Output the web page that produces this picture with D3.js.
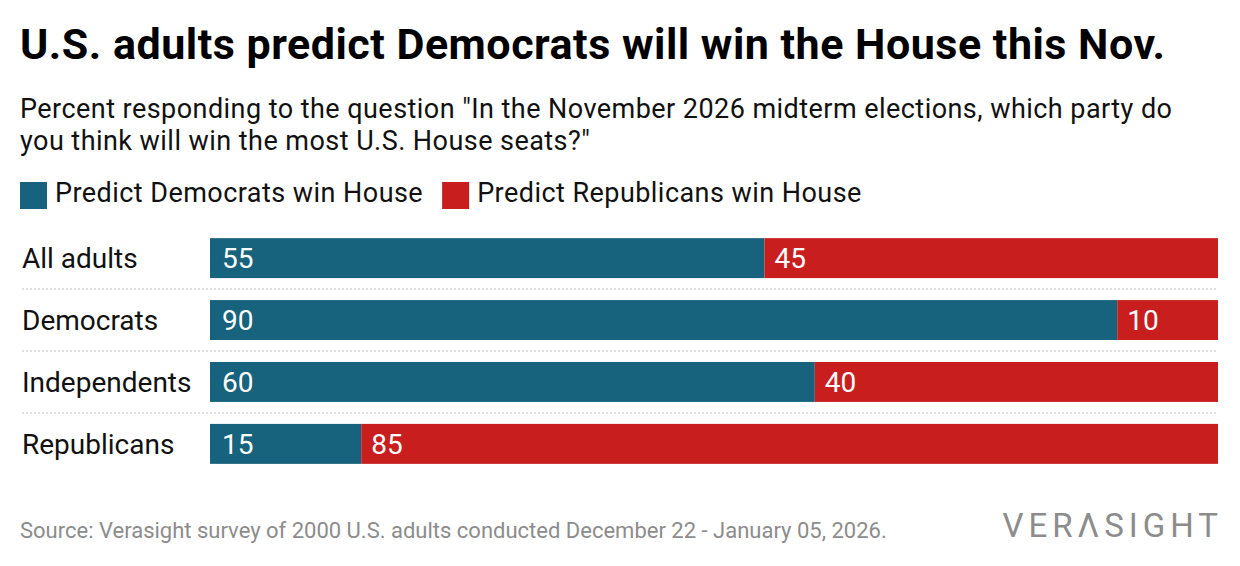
<!DOCTYPE html>
<html>
<head>
<meta charset="utf-8">
<script src="https://cdn.jsdelivr.net/npm/d3@7"></script>
<style>
  html, body { margin: 0; padding: 0; background: #fff; }
  svg { display: block; font-family: Roboto, "Noto Sans", sans-serif; }
</style>
</head>
<body>
<svg id="chart" width="1240" height="566"></svg>
<script>
const categories = ["All adults", "Democrats", "Independents", "Republicans"];
const demValues = [55, 90, 60, 15];
const repValues = [45, 10, 40, 85];
const seriesNames = ["Predict Democrats win House", "Predict Republicans win House"];
const seriesColors = ["#17627c", "#c81e1e"];

const title = "U.S. adults predict Democrats will win the House this Nov.";
const subtitleLines = [
  "Percent responding to the question \"In the November 2026 midterm elections, which party do",
  "you think will win the most U.S. House seats?\""
];
const source = "Source: Verasight survey of 2000 U.S. adults conducted December 22 - January 05, 2026.";

const svg = d3.select("#chart");

svg.append("text").attr("x", 20).attr("y", 59)
  .attr("font-size", 43).attr("font-weight", 700).attr("letter-spacing", 0.5).attr("fill", "#000")
  .text(title);

svg.append("g").selectAll("text").data(subtitleLines).join("text")
  .attr("x", 20).attr("y", (d, i) => 118 + i * 32)
  .attr("font-size", 27).attr("letter-spacing", 0.45).attr("fill", "#111")
  .text(d => d);

// legend
const legend = svg.append("g");
let lx = 20;
seriesNames.forEach((name, i) => {
  legend.append("rect").attr("x", lx).attr("y", 182).attr("width", 27).attr("height", 27)
    .attr("fill", seriesColors[i]);
  const t = legend.append("text").attr("x", lx + 35).attr("y", 202)
    .attr("font-size", 27).attr("letter-spacing", 0.45).attr("fill", "#111").text(name);
  lx += 35 + t.node().getComputedTextLength() + 19;
});

// bars
const x = d3.scaleLinear().domain([0, 100]).range([210, 1218]);
const y = d3.scaleBand().domain(categories).range([227, 475]).paddingInner(0.355).paddingOuter(0.18);

const rows = categories.map((c, i) => ({ cat: c, dem: demValues[i], rep: repValues[i] }));

const g = svg.append("g");

// separators
g.selectAll("line.sep").data(categories.slice(0, -1)).join("line")
  .attr("class", "sep")
  .attr("x1", 22).attr("x2", 1218)
  .attr("y1", d => y(d) + y.bandwidth() + y.step() * y.paddingInner() / 2)
  .attr("y2", d => y(d) + y.bandwidth() + y.step() * y.paddingInner() / 2)
  .attr("stroke", "#d6d6d6").attr("stroke-width", 1.5).attr("stroke-dasharray", "2,2");

g.selectAll("text.cat").data(rows).join("text")
  .attr("class", "cat")
  .attr("x", 22).attr("y", d => y(d.cat) + y.bandwidth() / 2 + 10)
  .attr("font-size", 28).attr("fill", "#111")
  .text(d => d.cat);

g.selectAll("rect.dem").data(rows).join("rect")
  .attr("class", "dem")
  .attr("x", x(0)).attr("y", d => y(d.cat))
  .attr("width", d => x(d.dem) - x(0)).attr("height", y.bandwidth())
  .attr("fill", seriesColors[0]);

g.selectAll("rect.rep").data(rows).join("rect")
  .attr("class", "rep")
  .attr("x", d => x(d.dem)).attr("y", d => y(d.cat))
  .attr("width", d => x(d.dem + d.rep) - x(d.dem)).attr("height", y.bandwidth())
  .attr("fill", seriesColors[1]);

g.selectAll("text.demv").data(rows).join("text")
  .attr("class", "demv")
  .attr("x", x(0) + 12).attr("y", d => y(d.cat) + y.bandwidth() / 2 + 10)
  .attr("font-size", 28).attr("fill", "#fff")
  .text(d => d.dem);

g.selectAll("text.repv").data(rows).join("text")
  .attr("class", "repv")
  .attr("x", d => x(d.dem) + 10).attr("y", d => y(d.cat) + y.bandwidth() / 2 + 10)
  .attr("font-size", 28).attr("fill", "#fff")
  .text(d => d.rep);

// footer
svg.append("text").attr("x", 20).attr("y", 538)
  .attr("font-size", 22).attr("fill", "#8c8c8c").text(source);

svg.append("text").attr("x", 1223).attr("y", 537)
  .attr("text-anchor", "end")
  .attr("font-size", 33).attr("font-weight", 400).attr("letter-spacing", 5)
  .attr("fill", "#8c8c8c").text("VERΛSIGHT");
</script>
</body>
</html>
